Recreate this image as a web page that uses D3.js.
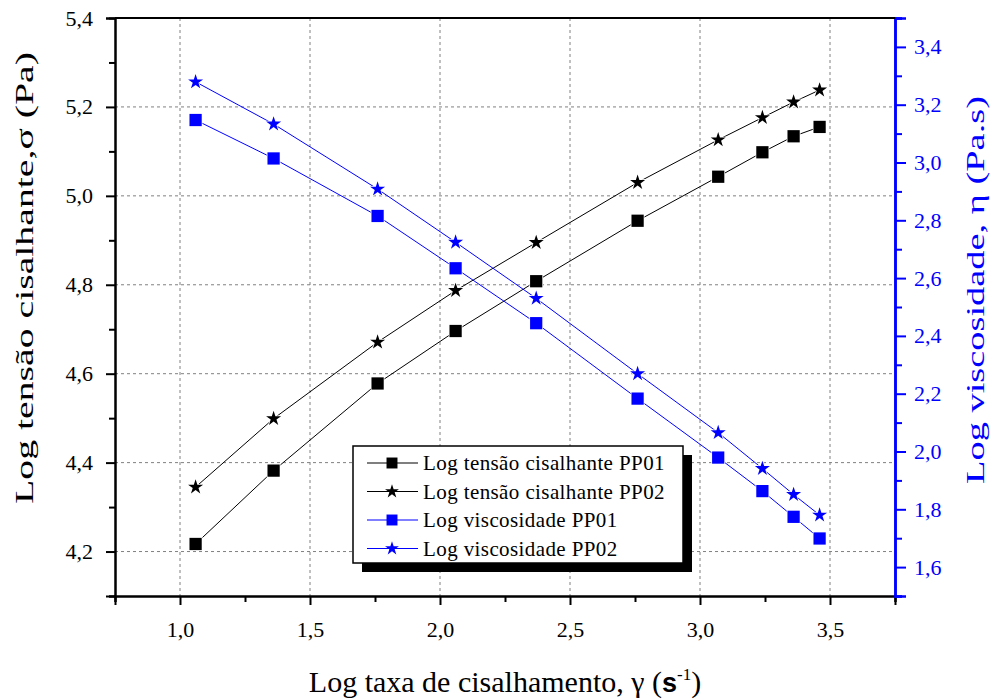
<!DOCTYPE html>
<html>
<head>
<meta charset="utf-8">
<script src="https://cdn.jsdelivr.net/npm/d3@7"></script>
<style>
  body { margin: 0; background: white; }
</style>
</head>
<body>
<svg id="plot"></svg>
<script>
// Data
const logRate = [1.06, 1.36, 1.76, 2.06, 2.37, 2.76, 3.07, 3.24, 3.36, 3.46];
const tensaoPP01 = [4.217, 4.382, 4.578, 4.696, 4.808, 4.944, 5.043, 5.098, 5.134, 5.155];
const tensaoPP02 = [4.345, 4.499, 4.671, 4.787, 4.895, 5.030, 5.126, 5.176, 5.211, 5.238];
const viscPP01 = [3.147, 3.014, 2.815, 2.634, 2.444, 2.183, 1.979, 1.863, 1.774, 1.699];
const viscPP02 = [3.279, 3.133, 2.908, 2.724, 2.530, 2.269, 2.065, 1.941, 1.851, 1.780];

const xTicks = [1.0, 1.5, 2.0, 2.5, 3.0, 3.5];
const leftTicks = [4.2, 4.4, 4.6, 4.8, 5.0, 5.2, 5.4];
const rightTicks = [1.6, 1.8, 2.0, 2.2, 2.4, 2.6, 2.8, 3.0, 3.2, 3.4];

const seriesNames = ['Log tensão cisalhante PP01', 'Log tensão cisalhante PP02',
                     'Log viscosidade PP01', 'Log viscosidade PP02'];

let width = 995, height = 700;
let margin = { top: 18, bottom: 104, left: 115, right: 100 };
const blue = '#0000ff';
const serif = '"Liberation Serif", "Times New Roman", serif';
const comma = d => d3.format('.1f')(d).replace('.', ',');

let svg = d3.select('#plot')
  .attr('width', width)
  .attr('height', height)
  .attr('font-family', serif)
  .style('background', 'white');

// Scales
let xScale = d3.scaleLinear()
  .domain([0.75, 3.75])
  .range([margin.left, width - margin.right]);

let yLeft = d3.scaleLinear()
  .domain([4.1, 5.4])
  .range([height - margin.bottom, margin.top]);

let yRight = d3.scaleLinear()
  .domain([1.5, 3.5])
  .range([height - margin.bottom, margin.top]);

// Grid
let grid = svg.append('g')
  .attr('stroke', '#808080')
  .attr('stroke-width', 1)
  .attr('stroke-dasharray', '3,3');

grid.selectAll('.vgrid')
  .data(xTicks)
  .enter()
  .append('line')
  .attr('x1', d => xScale(d)).attr('x2', d => xScale(d))
  .attr('y1', margin.top).attr('y2', height - margin.bottom);

grid.selectAll('.hgrid')
  .data(leftTicks.filter(d => d < 5.4))
  .enter()
  .append('line')
  .attr('x1', margin.left).attr('x2', width - margin.right)
  .attr('y1', d => yLeft(d)).attr('y2', d => yLeft(d));

// Axes
let xAxis = svg.append('g')
  .attr('transform', `translate(0, ${height - margin.bottom})`)
  .call(d3.axisBottom(xScale).tickValues(xTicks).tickFormat(comma).tickSize(9).tickPadding(16));

let xMinor = svg.append('g')
  .attr('transform', `translate(0, ${height - margin.bottom})`)
  .call(d3.axisBottom(xScale).tickValues(d3.range(0.75, 3.76, 0.5)).tickFormat('').tickSize(6));

let leftAxis = svg.append('g')
  .attr('transform', `translate(${margin.left}, 0)`)
  .call(d3.axisLeft(yLeft).tickValues(leftTicks).tickFormat(comma).tickSize(9).tickPadding(13));

let leftMinor = svg.append('g')
  .attr('transform', `translate(${margin.left}, 0)`)
  .call(d3.axisLeft(yLeft).tickValues(d3.range(4.1, 5.35, 0.2)).tickFormat('').tickSize(6));

let rightAxis = svg.append('g')
  .attr('transform', `translate(${width - margin.right}, 0)`)
  .call(d3.axisRight(yRight).tickValues(rightTicks).tickFormat(comma).tickSize(11).tickPadding(8));

let rightMinor = svg.append('g')
  .attr('transform', `translate(${width - margin.right}, 0)`)
  .call(d3.axisRight(yRight).tickValues(d3.range(1.5, 3.55, 0.2)).tickFormat('').tickSize(7));

[xAxis, xMinor, leftAxis, leftMinor, rightAxis, rightMinor].forEach(a => {
  a.attr('font-family', serif).attr('font-size', 22);
});
[xAxis, xMinor, leftAxis, leftMinor].forEach(a => {
  a.select('.domain').attr('stroke', 'black').attr('stroke-width', 2);
  a.selectAll('.tick line').attr('stroke', 'black').attr('stroke-width', 2);
});
[rightAxis, rightMinor].forEach(a => {
  a.select('.domain').attr('stroke', blue).attr('stroke-width', 2.5);
  a.selectAll('.tick line').attr('stroke', blue).attr('stroke-width', 2);
});

xAxis.selectAll('.tick text').attr('fill', 'black');
leftAxis.selectAll('.tick text').attr('fill', 'black');
rightAxis.selectAll('.tick text').attr('fill', blue);

// top frame
svg.append('line')
  .attr('x1', margin.left).attr('x2', width - margin.right)
  .attr('y1', margin.top).attr('y2', margin.top)
  .attr('stroke', 'black').attr('stroke-width', 2);

// Axis titles
svg.append('text')
  .attr('transform', 'translate(33, 278) rotate(-90)')
  .attr('text-anchor', 'middle')
  .attr('font-size', 25)
  .attr('textLength', 452)
  .attr('lengthAdjust', 'spacingAndGlyphs')
  .text('Log tensão cisalhante,σ (Pa)');

svg.append('text')
  .attr('transform', 'translate(984, 290) rotate(-90)')
  .attr('text-anchor', 'middle')
  .attr('font-size', 25)
  .attr('fill', blue)
  .attr('textLength', 388)
  .attr('lengthAdjust', 'spacingAndGlyphs')
  .text('Log viscosidade, η (Pa.s)');

let xTitle = svg.append('text')
  .attr('x', 505)
  .attr('y', 692)
  .attr('text-anchor', 'middle')
  .attr('font-size', 30);
xTitle.append('tspan').text('Log taxa de cisalhamento, γ (');
xTitle.append('tspan')
  .attr('font-family', '"Liberation Sans", Arial, sans-serif')
  .attr('font-weight', 'bold')
  .attr('font-size', 27)
  .text('s');
xTitle.append('tspan')
  .attr('font-size', 17)
  .attr('dy', -12)
  .text('-1');
xTitle.append('tspan')
  .attr('dy', 12)
  .text(')');

// Series
const series = [
  { values: tensaoPP01, scale: yLeft, color: 'black', symbol: d3.symbolSquare, size: 150 },
  { values: tensaoPP02, scale: yLeft, color: 'black', symbol: d3.symbolStar, size: 70 },
  { values: viscPP01, scale: yRight, color: blue, symbol: d3.symbolSquare, size: 150 },
  { values: viscPP02, scale: yRight, color: blue, symbol: d3.symbolStar, size: 70 }
];

series.forEach(s => {
  let line = d3.line()
    .x((d, i) => xScale(logRate[i]))
    .y(d => s.scale(d));

  svg.append('path')
    .datum(s.values)
    .attr('d', line)
    .attr('fill', 'none')
    .attr('stroke', s.color)
    .attr('stroke-width', 1);

  svg.selectAll(null)
    .data(s.values)
    .enter()
    .append('path')
    .attr('transform', (d, i) => `translate(${xScale(logRate[i])}, ${s.scale(d)})`)
    .attr('d', d3.symbol().type(s.symbol).size(s.size))
    .attr('fill', s.color)
    .attr('stroke', 'white')
    .attr('stroke-width', 1.5)
    .attr('paint-order', 'stroke');
});

// Legend
let legend = svg.append('g');
legend.append('rect')
  .attr('x', 362).attr('y', 455)
  .attr('width', 330).attr('height', 117)
  .attr('fill', 'black');
legend.append('rect')
  .attr('x', 353).attr('y', 446)
  .attr('width', 330).attr('height', 117)
  .attr('fill', 'white')
  .attr('stroke', 'black')
  .attr('stroke-width', 1.5);

let rows = legend.selectAll('.row')
  .data(series)
  .enter()
  .append('g')
  .attr('transform', (d, i) => `translate(0, ${463 + i * 28.5})`);

rows.append('line')
  .attr('x1', 367).attr('x2', 418)
  .attr('stroke', d => d.color)
  .attr('stroke-width', 1.2);

rows.append('path')
  .attr('transform', 'translate(392, 0)')
  .attr('d', d => d3.symbol().type(d.symbol).size(d.symbol === d3.symbolStar ? 60 : 120)())
  .attr('fill', d => d.color);

rows.append('text')
  .attr('x', 423)
  .attr('y', 7)
  .attr('font-size', 21)
  .attr('letter-spacing', 0.4)
  .text((d, i) => seriesNames[i]);
</script>
</body>
</html>
